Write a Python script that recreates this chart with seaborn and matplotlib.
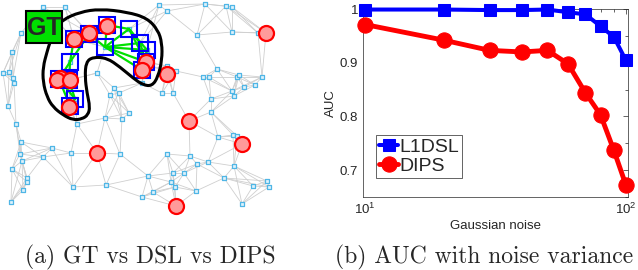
import numpy as np
import matplotlib.pyplot as plt
import seaborn as sns
from matplotlib.path import Path
from matplotlib.patches import PathPatch, Rectangle
from matplotlib.ticker import FixedLocator, FixedFormatter

sns.set_theme(style="white")
plt.rcParams['font.family'] = ['Liberation Sans', 'DejaVu Sans']

# ---- panel (b) data: AUC vs Gaussian noise ----
noise = [10, 20, 30, 40, 50, 60, 70, 80, 90, 100]
auc_l1dsl = [0.999, 0.999, 0.998, 0.998, 0.999, 0.994, 0.990, 0.968, 0.948, 0.905]
auc_dips = [0.971, 0.942, 0.923, 0.920, 0.923, 0.898, 0.844, 0.803, 0.737, 0.673]

# ---- panel (a) data: graph in pixel coordinates ----
node_x = [43, 65, 21, 12, 3, 9, 13, 14, 8, 97, 114, 119, 110, 142, 159, 167, 205, 226, 232,
          197, 232, 258, 176, 167, 217, 203, 209, 237, 239, 262, 255, 244, 232, 234, 211, 162, 173,
          16, 21, 52, 20, 22, 43, 71, 77, 105, 122, 129, 120, 12, 27, 27, 23, 73, 106, 148, 142, 11,
          211, 218, 233, 237, 167, 190, 197, 208, 234, 173, 184, 171, 175, 153, 196, 224, 253, 267,
          269, 242]
node_y = [7, 7, 33, 52, 73, 72, 78, 83, 106, 73, 88, 93, 95, 83, 5, 11, 4, 6, 7,
          35, 32, 33, 71, 66, 69, 77, 77, 77, 75, 77, 85, 87, 91, 96, 99, 93, 93,
          124, 142, 148, 154, 161, 157, 153, 124, 118, 119, 113, 154, 169, 178, 182, 190, 187, 185, 176, 197, 202,
          112, 137, 135, 136, 154, 156, 164, 162, 166, 173, 173, 182, 187, 192, 191, 178, 186, 181,
          187, 204]

# ground-truth subgraph nodes (blue squares)
gt_x = [74, 89, 107, 129, 105, 140, 147, 146, 142, 70, 59, 69, 75, 70]
gt_y = [39, 34, 25, 29, 47, 43, 50, 62, 70, 62, 79, 80, 99, 106]
gt_edges = [(4, 3), (4, 5), (4, 6), (4, 7), (4, 8), (4, 1), (3, 5), (3, 6), (2, 3), (5, 7),
            (9, 0), (9, 1), (9, 10), (9, 11), (11, 12), (10, 12), (12, 13), (0, 1), (1, 2), (6, 8),
            (3, 7), (2, 4), (10, 13)]

# DIPS detections (red circles)
dips_x = [74, 89, 107, 146, 142, 60, 57, 70, 69, 266, 167, 189, 242, 97, 176]
dips_y = [39, 33, 26, 62, 70, 78, 80, 80, 107, 33, 74, 121, 144, 153, 206]

# hand-drawn ground-truth outline
blob_x = [62, 80, 100, 127, 147, 158, 162, 162, 158, 152, 143, 133, 120, 107, 93, 86, 85, 87,
          90, 88, 82, 73, 63, 53, 47, 43, 43, 47, 50, 55]
blob_y = [20, 12, 9, 12, 18, 30, 43, 60, 77, 86, 85, 78, 67, 58, 57, 62, 77, 93,
          107, 115, 119, 120, 115, 107, 97, 82, 67, 52, 42, 30]

fig = plt.figure(figsize=(6.38, 2.70), dpi=100)

# ---------------- panel (a) ----------------
axg = fig.add_axes([0, 0, 300 / 638, 1])
axg.set_xlim(0, 300)
axg.set_ylim(270, 0)
axg.axis('off')

all_x = np.array(node_x + gt_x + dips_x, dtype=float)
all_y = np.array(node_y + gt_y + dips_y, dtype=float)
pts = np.column_stack([all_x, all_y])
d = np.sqrt(((pts[:, None, :] - pts[None, :, :]) ** 2).sum(-1))
np.fill_diagonal(d, np.inf)
seen = set()
for i in range(len(pts)):
    for j in np.argsort(d[i])[:5]:
        key = (min(i, j), max(i, j))
        if key in seen or d[i, j] < 1:
            continue
        seen.add(key)
        axg.plot([all_x[i], all_x[j]], [all_y[i], all_y[j]], color='#cfcfcf', lw=0.6, zorder=1)

sns.scatterplot(x=node_x + gt_x, y=node_y + gt_y, marker='s', s=10, color='#dff2fb',
                edgecolor='#4fb6e6', linewidth=0.9, ax=axg, zorder=2)

for a, b in gt_edges:
    axg.plot([gt_x[a], gt_x[b]], [gt_y[a], gt_y[b]], color='#00e000', lw=1.6, zorder=3)

axg.plot(gt_x, gt_y, 's', ms=12.2, mfc='none', mec='#0000ff', mew=1.5, zorder=4)
axg.plot(dips_x, dips_y, 'o', ms=10.8, mfc='#ff9a9a', mec='#ff0000', mew=1.6, zorder=5)

verts = list(zip(blob_x, blob_y))
n = len(verts)
mids = [((verts[i][0] + verts[(i + 1) % n][0]) / 2, (verts[i][1] + verts[(i + 1) % n][1]) / 2)
        for i in range(n)]
path_v = [mids[-1]]
codes = [Path.MOVETO]
for i in range(n):
    path_v += [verts[i], mids[i]]
    codes += [Path.CURVE3, Path.CURVE3]
axg.add_patch(PathPatch(Path(path_v, codes), fill=False, ec='black', lw=2.2, zorder=6))

axg.add_patch(Rectangle((26, 11), 36, 32, fc='#00e000', ec='black', lw=1.5, zorder=7))
axg.text(44, 28, 'GT', fontsize=18, fontweight='bold', ha='center', va='center', zorder=8)

# ---------------- panel (b) ----------------
ax = fig.add_axes([363 / 638, 73 / 270, 265 / 638, 188 / 270])
sns.lineplot(x=noise, y=auc_l1dsl, color='#0000ff', lw=2.9, marker='s', ms=8.6, mec='#0000ff',
             clip_on=False, ax=ax, label='L1DSL', zorder=4)
sns.lineplot(x=noise, y=auc_dips, color='#ff0000', lw=3.5, marker='o', ms=11, mec='#ff0000',
             clip_on=False, ax=ax, label='DIPS', zorder=3)
ax.set_xscale('log')
ax.set_xlim(9.8, 102)
ax.set_ylim(0.65, 1.0)
ax.yaxis.set_major_locator(FixedLocator([0.7, 0.8, 0.9, 1.0]))
ax.yaxis.set_major_formatter(FixedFormatter(['0.7', '0.8', '0.9', '1']))
ax.yaxis.set_minor_locator(FixedLocator([0.65, 0.75, 0.85, 0.95]))
ax.tick_params(which='both', direction='in', top=True, right=True, colors='#262626',
               labelsize=9.5, width=0.5)
ax.tick_params(which='major', length=3.5)
ax.tick_params(which='minor', length=2)
for s in ax.spines.values():
    s.set_color('#262626')
    s.set_linewidth(0.5)
ax.set_xlabel('Gaussian noise', fontsize=9.5, color='#262626', labelpad=2)
ax.set_ylabel('AUC', fontsize=9.5, color='#262626', labelpad=2)
ax.legend(loc='lower left', bbox_to_anchor=(0.049, 0.101), borderaxespad=0, fontsize=14,
          frameon=True, fancybox=False, edgecolor='#262626', framealpha=1,
          handlelength=1.0, handletextpad=0.05, borderpad=0.15, labelspacing=0.1)
ax.get_legend().get_frame().set_linewidth(0.5)

# captions
fig.text(150 / 638, 7 / 270, '(a) GT vs DSL vs DIPS', family='cmr10', fontsize=17,
         ha='center', va='baseline')
fig.text(484 / 638, 7 / 270, '(b) AUC with noise variance', family='cmr10', fontsize=17,
         ha='center', va='baseline')

fig.savefig('out.png', dpi=100)
